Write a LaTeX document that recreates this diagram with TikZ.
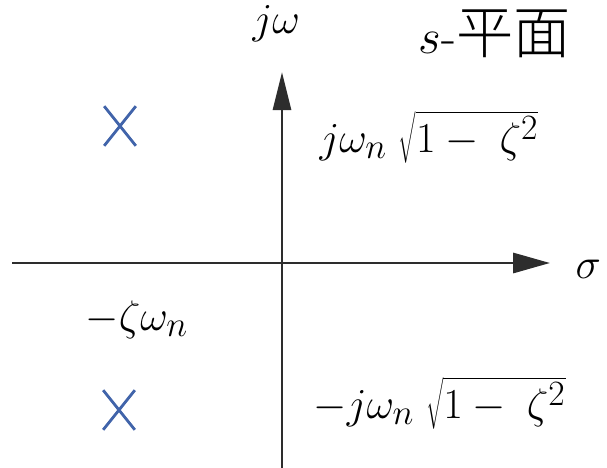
\documentclass[tikz,border=0pt]{standalone}
\usepackage{fontspec}
\newfontfamily\cjk{Noto Sans CJK SC Light}
\usetikzlibrary{arrows.meta,shapes.misc}
\definecolor{axisgray}{RGB}{45,45,45}
\definecolor{poleblue}{RGB}{65,100,170}

\begin{document}
\begin{tikzpicture}[x=0.025cm,y=-0.025cm,line width=2pt,
  lbl/.style={font=\fontsize{24.88}{28}\selectfont,scale=1.22,inner sep=0pt,anchor=base west},
  pole/.style={draw=poleblue,cross out,line width=2pt,minimum width=7.2mm,minimum height=9.2mm,inner sep=0pt}]
  \useasboundingbox (0,0) rectangle (607,468);
  % axes
  \coordinate (W) at (12,263);
  \coordinate (E) at (550,263);
  \coordinate (S) at (282,468);
  \coordinate (N) at (282,72);
  \draw[axisgray,-{Triangle[length=9.2mm,width=5mm]}] (W) -- (E);
  \draw[axisgray,-{Triangle[length=9.5mm,width=4.5mm]}] (S) -- (N);
  % poles
  \node[pole] (p1) at (120,126) {};
  \node[pole] (p2) at (119,410) {};
  % labels
  \node[lbl] (jw) at (251,33) {$j\omega$};
  \node[lbl,scale=1.15] (plane) at (417,53) {$s$-{\cjk\fontsize{29}{32}\selectfont 平面}};
  \node[lbl] (sig) at (574,278) {$\sigma$};
  \node[lbl] (up) at (318,152) {$j\omega_n\;\sqrt{1-\;\zeta^2}$};
  \node[lbl] (dn) at (312,418) {$-j\omega_n\;\sqrt{1-\;\zeta^2}$};
  \node[lbl] (re) at (84,330) {$-\zeta\omega_n$};
\end{tikzpicture}
\end{document}
